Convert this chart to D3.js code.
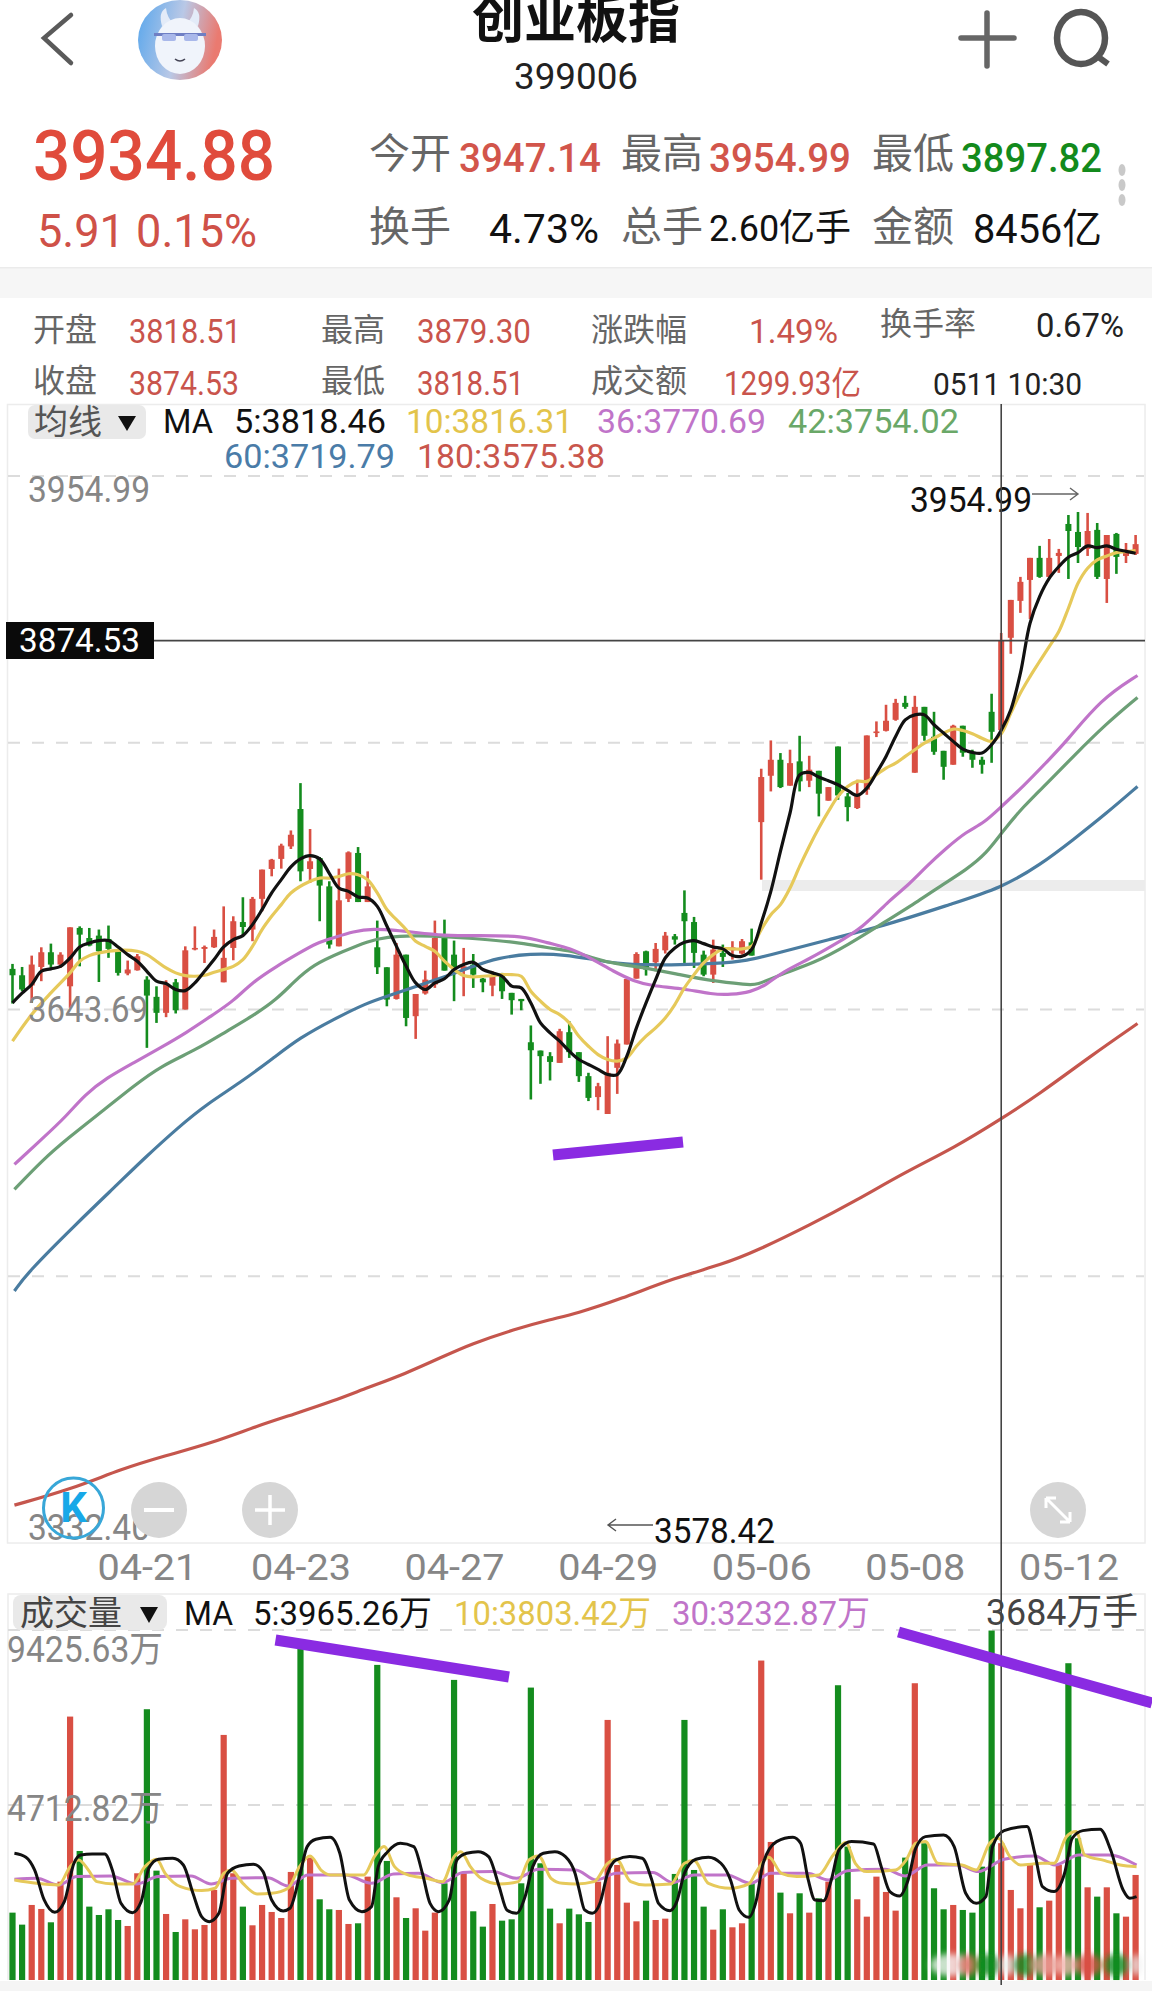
<!DOCTYPE html>
<html><head><meta charset="utf-8">
<script src="https://cdn.jsdelivr.net/npm/d3@7/dist/d3.min.js"></script>
<style>html,body{margin:0;padding:0;background:#fff}svg{display:block}text{font-family:Roboto,"Noto Sans CJK SC",sans-serif}</style>
</head><body><div id="c"></div><script>
// ---------- data ----------
const opens=[3669.2,3665.2,3658.8,3670.4,3679.6,3671.9,3658.3,3694.8,3688.5,3690,3687.9,3680.2,3666.3,3668.3,3662.5,3651.7,3641.7,3660.8,3643.8,3681.3,3681.7,3682.7,3660.8,3682.3,3698.5,3693.8,3713,3731.7,3738,3745.8,3769.2,3731.7,3738.5,3720.8,3683.3,3713,3741.7,3711,3682.7,3670.2,3650.4,3678.1,3639.6,3653.8,3659.4,3688.5,3678.1,3668.8,3671.9,3663.1,3658.7,3664.6,3654.2,3650.4,3623.3,3618.1,3614.6,3610.4,3629.6,3617.1,3602.1,3589,3578.42,3607.3,3621.9,3663.1,3680.2,3673.3,3680.8,3689.6,3704.2,3698.5,3678.1,3665.6,3679.2,3680.8,3678.8,3685.8,3761,3790,3800,3783.8,3799,3786.9,3793.1,3774.4,3808.3,3777.1,3769.8,3781.3,3816.7,3818.1,3825,3835.6,3791.9,3833.1,3814.4,3805.6,3796.9,3821.3,3805,3800,3830,3818.51,3876.3,3899.4,3912.5,3926.3,3914.4,3927.5,3947.5,3942.5,3931.9,3943.8,3913.1,3941.3,3927.5,3928.8];
const highs=[3672.3,3670.4,3677.5,3682.7,3685,3679.6,3695.2,3695.8,3694.8,3693.8,3696.3,3681.7,3674.4,3678.5,3664.6,3658.3,3662.1,3662.9,3683.3,3695.8,3683.8,3693.8,3708.3,3702.1,3714,3714.2,3731.3,3738,3747.5,3755.8,3785.4,3756.7,3739.2,3724,3731.9,3742.7,3745.4,3730.2,3699.4,3670.2,3685.4,3678.1,3653.5,3668.1,3699.4,3700,3686.9,3682.3,3678.5,3663.5,3667.7,3666.7,3654.2,3650.4,3633.8,3618.1,3617.1,3631.7,3636.5,3617.1,3604.2,3597.9,3627.1,3625,3662.9,3679.6,3680.6,3685.4,3692.3,3691,3718.3,3701.7,3680.6,3687.5,3684.4,3686.5,3687.9,3694.4,3794.4,3812.1,3804.2,3806.3,3815,3802.5,3793.1,3782.9,3808.3,3779.2,3787.5,3815.2,3824,3834.4,3838.1,3840,3840,3833.1,3830,3805.6,3821.9,3821.3,3806.3,3801.9,3841.3,3879.3,3900,3914.4,3926.3,3933.8,3938.1,3931.9,3953.1,3954.99,3954.4,3948.1,3940.6,3941.9,3935.6,3940.6];
const lows=[3647.5,3655.2,3647.9,3661.5,3669.8,3669.8,3644.8,3670.8,3683.3,3661,3676.1,3665,3665.2,3668.1,3619.8,3635.4,3639,3641.3,3643.8,3680.8,3672.9,3682.3,3660.8,3674.6,3689.6,3686.5,3705.2,3727.1,3731.9,3744.2,3724,3722.9,3699,3681.9,3683.3,3711,3711,3711,3666,3645.8,3650,3633.3,3625.4,3653.1,3657.3,3668.1,3649,3652.1,3657.3,3654.6,3652.1,3650.4,3640.6,3643.3,3587.5,3597.3,3599.4,3610.4,3613.5,3598.5,3586.5,3580.8,3578.42,3591,3621.9,3663.1,3665,3667.7,3678.8,3684.4,3672.9,3669.8,3664.6,3660.4,3670.4,3675,3678.1,3677.5,3725,3780.2,3782.3,3783.8,3780.2,3782.9,3764.6,3774.4,3775,3761.5,3769.2,3778.1,3814.2,3817.7,3824.4,3831.9,3791.9,3811.9,3803.1,3787.5,3796.9,3801.9,3795,3791.3,3798.1,3818.51,3866.3,3891.9,3888.1,3913.8,3914.4,3916.9,3913.1,3923.1,3927.5,3913.1,3898.1,3916.3,3923.1,3928.1];
const closes=[3665.2,3656.3,3671.9,3679.6,3671.9,3678.1,3695.2,3690.6,3683.8,3680.2,3681.7,3666.7,3668.8,3677.1,3652.5,3641.7,3659.4,3643.3,3680.8,3682.3,3682.9,3689.2,3676.1,3699,3695.4,3713,3731.3,3737.5,3746.3,3753.1,3730.2,3736.5,3721.3,3684.4,3712.1,3742.1,3711,3720.8,3670.2,3650,3678.1,3638.5,3653.5,3662.5,3688.5,3668.1,3668.8,3670.8,3665.6,3660.8,3664.6,3655.2,3649.6,3649,3618.3,3614.6,3611,3630.2,3617.1,3602.1,3588.5,3595.8,3604.2,3622.5,3662.9,3678.5,3668.8,3681.7,3690,3687.5,3699,3679.2,3665.6,3681.3,3676.7,3682.7,3686.5,3677.5,3789.2,3800,3782.9,3797.9,3786.5,3793.8,3778.8,3782.9,3777.7,3770.4,3778.1,3815.2,3817.7,3824.4,3835.6,3833.1,3833.1,3815,3805,3795.6,3821.3,3804.4,3800,3796.9,3817.5,3874.53,3900,3911.3,3926.3,3914.4,3926.3,3929.4,3943.1,3933.1,3943.1,3914.4,3940.6,3926.9,3931.3,3934.88];
const volumes=[1814,1491,2021,1913,1554,2649,7094,3475,1976,1751,1904,1616,1455,2874,7292,2945,1778,1293,1634,1365,1482,2425,6600,2874,1976,1473,2021,1832,1670,2910,8935,3296,2173,1904,1886,1509,1527,2784,8486,3206,2227,1670,1931,1329,1814,2604,8082,2874,1850,1437,2047,1598,1634,2604,7875,3143,1922,1527,1922,1769,1563,2649,7004,3098,2083,1580,2137,1616,1652,2856,7004,2963,1976,1356,1904,1419,1527,2604,8603,3718,2353,1796,2335,1814,2200,2649,7938,3592,2173,1706,2784,2371,1868,3296,7992,3682,2470,1904,2021,1886,1814,3053,9411,3684,2425,1931,3143,1958,2137,3098,8531,3817,2496,2245,2496,1796,1706,2829];
const dayTicks=[14,30,46,62,78,94,110];
const dayLabels=["04-21","04-23","04-27","04-29","05-06","05-08","05-12"];
const priceGrid=[3954.99,3799.34,3643.69,3488.05];
const volGrid=[9425.63,4712.82];
// moving averages as [bar index, value]
const ma5=[[0,3648],[1,3654],[2,3659.4],[3,3667.7],[4,3669.2],[5,3670.8],[6,3676],[7,3682.9],[8,3685.4],[9,3686.9],[10,3686.9],[11,3682.9],[12,3678.1],[13,3674],[14,3667.7],[15,3661.5],[16,3660],[17,3656.3],[18,3655.6],[19,3660.4],[20,3667.7],[21,3675],[22,3682.9],[23,3687.5],[24,3690],[25,3696.9],[26,3706.3],[27,3716.7],[28,3725],[29,3733],[30,3738],[31,3740],[32,3738],[33,3729],[34,3719.8],[35,3717.7],[36,3714.2],[37,3713.5],[38,3708.3],[39,3696],[40,3683.3],[41,3671],[42,3660.4],[43,3656.3],[44,3660.4],[45,3663],[46,3668.8],[47,3672],[48,3673.3],[49,3668.8],[50,3666.7],[51,3664.6],[52,3658.4],[53,3657.3],[54,3647.9],[55,3635.4],[56,3629.2],[57,3624],[58,3617.7],[59,3612.5],[60,3609.4],[61,3606.3],[62,3603.1],[63,3603.1],[64,3614.6],[65,3632.3],[66,3647.9],[67,3662.5],[68,3676],[69,3682.3],[70,3685.8],[71,3686.9],[72,3685],[73,3682.9],[74,3681.7],[75,3677.5],[76,3677.1],[77,3681.3],[78,3697.9],[79,3717.7],[80,3742.7],[81,3766.7],[82,3790.6],[83,3792.1],[84,3789.2],[85,3786.9],[86,3784.4],[87,3780.8],[88,3777.7],[89,3782.3],[90,3791.7],[91,3802.1],[92,3814.6],[93,3825],[94,3828.1],[95,3828.1],[96,3821.9],[97,3816.7],[98,3811.5],[99,3806.7],[100,3804.6],[101,3804.2],[102,3809.4],[103,3818.46],[104,3831.3],[105,3854.2],[106,3885.4],[107,3902.1],[108,3913.5],[109,3920.8],[110,3926.7],[111,3929.6],[112,3933.8],[113,3932.7],[114,3933.8],[115,3931.7],[116,3930.4],[117,3929.2]];
const ma10=[[0,3624],[2,3640.6],[4,3654.2],[6,3666.7],[7,3674],[8,3677.5],[9,3679.2],[11,3680.8],[13,3680.2],[14,3678.1],[15,3674],[16,3669.8],[17,3666.7],[18,3665],[19,3664.6],[20,3665.2],[21,3667.1],[22,3668.8],[23,3670.8],[24,3675],[25,3683.3],[26,3693.8],[27,3702.1],[28,3709.4],[29,3716.7],[31,3724],[32,3726],[33,3726],[34,3727],[35,3728.7],[36,3728.1],[37,3725],[38,3716.7],[39,3706.3],[40,3700],[41,3693.8],[42,3686.5],[43,3683.3],[44,3680.2],[45,3674],[46,3668.8],[47,3665],[48,3664.2],[49,3664.6],[50,3665],[51,3665.6],[52,3665.6],[53,3664.6],[54,3655.2],[55,3649],[56,3643.8],[57,3640.6],[58,3635.4],[59,3627.1],[60,3620.8],[61,3615.6],[62,3612.5],[63,3611.5],[64,3613.5],[65,3620.8],[66,3627.1],[67,3632.3],[68,3638.5],[69,3646.9],[70,3657.3],[71,3665.6],[72,3672.9],[73,3678.1],[74,3681.7],[75,3681.7],[76,3681.7],[77,3683.3],[78,3693.8],[79,3703.1],[80,3709.4],[81,3719.8],[82,3733.3],[83,3745.8],[84,3757.3],[85,3767.7],[86,3777.1],[87,3783.3],[88,3786.5],[89,3786.5],[90,3790.6],[91,3794.8],[92,3797.9],[93,3802.1],[94,3806.3],[95,3810.4],[96,3813.5],[97,3816.7],[98,3819.2],[99,3818.3],[100,3816.3],[101,3813.5],[102,3811.5],[103,3816.31],[104,3829.2],[105,3841.7],[106,3852],[107,3861.5],[108,3870.8],[109,3880.2],[110,3894.8],[111,3910.4],[112,3919.8],[113,3925],[114,3927.5],[115,3929.6],[116,3930.2],[117,3930.8]];
const ma36=[[0.2,3546.9],[3.2,3563.5],[5.6,3577],[7.55,3590.6],[9.8,3601],[12.6,3610.4],[15.4,3619.8],[18.1,3629.2],[20.9,3640.6],[23,3649],[24.9,3660.4],[27.5,3670.8],[29.9,3679.2],[31.7,3685.4],[33.4,3688.5],[35.5,3692.7],[37.6,3694.4],[40,3693.3],[41.8,3692.1],[44.9,3690],[48.4,3690],[53.2,3690],[55.7,3685.4],[58.1,3682.3],[60.5,3675],[62.6,3667.7],[64.7,3661.5],[66.8,3658.3],[69.5,3657.3],[73,3653.1],[74.8,3653.1],[76.9,3654.6],[78.6,3659.4],[80.1,3667],[83.2,3676],[85.5,3684],[88.6,3695],[91.4,3712.5],[93.2,3720.8],[95.2,3733.3],[97.3,3744.8],[99.4,3755.2],[101.2,3760.4],[103,3770.69],[105.3,3783.3],[107.8,3799],[109.8,3811.5],[113.4,3838],[117.2,3852.7]];
const ma42=[[0.2,3531.3],[3.2,3550],[5.6,3562.5],[9.8,3582.3],[12.6,3595.8],[15.4,3608.3],[19.2,3618.8],[22.3,3630.2],[25,3639.6],[27.5,3650],[29.2,3660.4],[31.3,3671.9],[34.5,3680.2],[37,3686.5],[39,3689.2],[41.8,3690],[44.9,3689.6],[48.4,3688.1],[53.2,3685.4],[55.7,3682.3],[58.1,3680.8],[60.5,3676],[62.6,3672.5],[66.1,3669.8],[69.5,3665.6],[73,3661.5],[76.5,3659.4],[77.5,3658.8],[79.9,3665.6],[83.6,3673],[87,3684],[91,3699],[94.6,3712.5],[96.6,3720.8],[99.4,3731.3],[101.5,3741.7],[103,3754.02],[105.3,3770.8],[107.8,3785.4],[110.5,3802.1],[114,3822.9],[117.2,3839]];
const ma60=[[0.2,3467.7],[1.6,3479.4],[6.4,3508.3],[11.3,3536.5],[13.6,3550],[17.4,3570.8],[20.2,3584.4],[23.7,3597.9],[27.2,3613.5],[29.9,3626],[33.4,3637.5],[36.9,3647.9],[39,3652],[42.1,3658.3],[45.2,3664.6],[48,3670.8],[50.5,3676],[53.9,3678.8],[57.7,3678.1],[60.5,3675],[63.3,3672.3],[66.1,3671.7],[69.5,3671.7],[73,3672.5],[76.5,3674],[80,3679.6],[84.7,3687],[91.3,3697],[97.9,3710],[103,3719.79],[107.1,3734.4],[110.5,3750],[114,3766.7],[117.2,3783.3]];
const ma180=[[0.2,3333.75],[6.35,3344.2],[11.3,3356.3],[15.9,3364.6],[20.9,3372.9],[25.5,3383.3],[29.3,3390.6],[33.5,3399],[37,3407.3],[40.8,3415.6],[45,3427.1],[47.7,3434.4],[52.3,3443.8],[56.1,3450],[58.7,3453.5],[63.3,3462.5],[69,3476],[74,3484.4],[77.5,3492.7],[83.2,3509.4],[87.8,3524],[93.2,3542.7],[98.1,3557.3],[103,3575.38],[106.9,3590.6],[112.3,3614.6],[117.2,3635]];
const volMa5=[[0.2,3412],[1.4,3305],[2.3,2963],[3.3,2155],[4.4,1823],[5.4,2110],[6.4,3143],[7.1,3368],[8.3,3394],[9.6,3394],[10.4,2963],[11.3,2065],[12.5,1814],[13.4,2110],[14.2,3008],[15.2,3251],[16.7,3278],[17.8,3098],[18.8,2335],[19.7,1706],[20.5,1572],[21.5,1796],[22.4,2874],[23.6,3071],[25.1,3116],[26.1,2919],[27,2155],[28.2,1859],[28.9,1931],[29.9,2784],[30.7,3592],[31.6,3790],[33.1,3843],[34.1,3412],[35.1,2155],[36.4,1841],[37.4,1976],[38.1,3053],[39.1,3457],[40.4,3682],[41.8,3592],[42.7,2874],[43.5,2065],[44.4,1841],[45.5,2155],[46.3,3233],[47.3,3412],[48.5,3457],[49.6,3323],[50.7,2514],[51.5,1886],[52.5,1796],[53.4,2245],[54.2,3053],[55.3,3412],[56.5,3457],[57.6,3323],[58.6,2874],[59,2470],[59.6,1886],[60.4,1796],[61.2,2065],[62,2874],[62.9,3233],[64.3,3323],[65.6,3278],[66.6,2694],[67.3,2065],[68.5,1868],[69.2,2110],[70,2874],[71.2,3251],[72.5,3305],[73.8,3143],[74.8,2694],[75.7,1886],[76.7,1688],[77.5,2155],[78.2,3143],[79.6,3727],[81.3,3843],[82.1,3682],[82.9,2694],[83.6,2155],[84.5,2137],[85.3,2694],[86.1,3502],[87.4,3727],[89.7,3664],[90.5,3053],[91.4,2380],[92.4,2263],[93.3,2694],[94.1,3547],[95.1,3861],[97,3906],[98.1,3592],[99.3,2335],[100.4,2065],[101.4,2245],[102.1,3592],[103.3,4023],[105.7,4131],[106.5,3412],[107.3,2514],[108.5,2380],[109.6,2874],[110.4,3817],[111.5,4023],[113.3,4059],[114.4,3502],[115.7,2425],[116.4,2200],[117.1,2245]];
const volMa10=[[0.2,2694],[2.5,2604],[4.8,2559],[6,3053],[6.9,3233],[7.9,2963],[8.8,2649],[10.6,2586],[12.5,2586],[13.8,3053],[15,3251],[15.9,2874],[17.5,2514],[19.7,2407],[21.1,2470],[22,2874],[22.8,2963],[24,2604],[25.5,2317],[27,2335],[28.7,2470],[29.9,3053],[31,3341],[32.2,2945],[33.1,2829],[34.9,2829],[36.6,2829],[37.7,3323],[38.7,3592],[39.8,3053],[41.2,2829],[43.1,2739],[44.8,2649],[46,3323],[46.7,3457],[47.7,3053],[48.8,2739],[50.7,2586],[52.7,2649],[53.8,3233],[54.8,3341],[56.1,2739],[57.3,2604],[58.7,2586],[60.6,2649],[62,3143],[62.9,3251],[64.4,2649],[65.9,2559],[68.6,2586],[70,3143],[71,3215],[72.5,2604],[74.8,2470],[76.7,2586],[77.5,2919],[78.8,3305],[80.1,2874],[81.7,2784],[84,2829],[85.5,3368],[86.8,3700],[87.8,3143],[89,2919],[92,2963],[93.1,3233],[94.1,3682],[95.1,3727],[96.4,3143],[98.9,3098],[100.4,2963],[101.8,3682],[102.7,3816],[103.9,3323],[105,3098],[107.3,3143],[108.5,3143],[109.8,3861],[110.8,3996],[111.7,3368],[113.8,3215],[115.4,3098],[117.1,3053]];
const volMa30=[[0.2,2712],[2.5,2739],[4.8,2559],[6.7,2784],[10.2,2802],[12.9,2586],[15.2,2784],[18.6,2802],[20.7,2586],[22.8,2739],[26.6,2757],[28.7,2532],[30.8,2829],[34.7,2829],[37.4,2604],[39.7,2856],[42.3,2874],[44.8,2622],[46.9,2892],[50,2919],[52.5,2739],[54.8,2981],[58.7,2963],[60.8,2694],[62.9,2874],[66.7,2892],[68.8,2622],[71,2829],[74.4,2829],[76.9,2604],[79,2874],[82.8,2874],[85,2694],[87,2945],[90.9,2981],[93,2802],[95.3,3098],[98.5,3098],[100.6,2919],[103.3,3251],[106.5,3341],[108.6,3098],[111.1,3368],[114.2,3368],[117.1,3098]];

// ---------- layout ----------
const W=1152,H=1991,RED="#d94f43",GREEN="#148c1e",GRAY="#868686";
const svg=d3.select("#c").append("svg").attr("width",W).attr("height",H).attr("viewBox",`0 0 ${W} ${H}`);
const x=d3.scaleLinear().domain([0,117]).range([12.5,1135.6]);
const y=d3.scaleLinear().domain([3578.42,3954.99]).range([1114,512]);
const yLabel=d3.scaleLinear().domain([3954.99,3332.40]).range([476,1543]);
const yv=d3.scaleLinear().domain([0,9425.63]).range([1980,1630]);
function t(s,px,py,size,fill,o={}){
  const n=svg.append("text").attr("x",px).attr("y",py).attr("font-size",size).attr("fill",fill).text(s);
  if(o.w){n.attr("textLength",o.w).attr("lengthAdjust","spacingAndGlyphs");}
  if(o.anchor)n.attr("text-anchor",o.anchor);
  if(o.weight)n.attr("font-weight",o.weight);
  return n;
}
// header
svg.append("path").attr("d","M71 15L44 38L71 63").attr("fill","none").attr("stroke","#5a5a5a").attr("stroke-width",4.5).attr("stroke-linecap","round");
const defs=svg.append("defs");
const g=defs.append("linearGradient").attr("id","av").attr("x1",0).attr("x2",1).attr("y1",0).attr("y2",0.2);
g.append("stop").attr("offset","0").attr("stop-color","#58a6ec");
g.append("stop").attr("offset","0.55").attr("stop-color","#b9c8e6");
g.append("stop").attr("offset","1").attr("stop-color","#ea7a70");
const blur=defs.append("filter").attr("id","smudge").attr("x","-30%").attr("y","-60%").attr("width","160%").attr("height","220%");
blur.append("feGaussianBlur").attr("stdDeviation",3);
svg.append("ellipse").attr("cx",180).attr("cy",40).attr("rx",42).attr("ry",40).attr("fill","url(#av)");
svg.append("path").attr("d","M162 26Q158 12 166 8Q167 18 174 24ZM198 26Q202 12 194 8Q193 18 186 24Z").attr("fill","#e3ebf8");
svg.append("ellipse").attr("cx",180).attr("cy",46).attr("rx",25).attr("ry",28).attr("fill","#f0f4fb");
svg.append("rect").attr("x",154).attr("y",33).attr("width",52).attr("height",3).attr("fill","#6f7fc4");
svg.append("rect").attr("x",162).attr("y",34).attr("width",14).attr("height",7).attr("rx",2).attr("fill","#a9b8ea");
svg.append("rect").attr("x",184).attr("y",34).attr("width",14).attr("height",7).attr("rx",2).attr("fill","#a9b8ea");
svg.append("path").attr("d","M175 59Q180 63 185 59").attr("fill","none").attr("stroke","#445").attr("stroke-width",1.6);
svg.append("path").attr("d","M961 38H1014M987 13V66").attr("stroke","#666").attr("stroke-width",5.5).attr("stroke-linecap","round");
svg.append("ellipse").attr("cx",1081).attr("cy",38).attr("rx",24).attr("ry",26).attr("fill","none").attr("stroke","#555").attr("stroke-width",6.5);
svg.append("path").attr("d","M1097 56L1108 64").attr("stroke","#555").attr("stroke-width",6);
t("创业板指",576,38,52,"#111",{anchor:"middle",weight:700});
t("399006",576,89,37,"#222",{anchor:"middle",w:124});
t("3934.88",33,180,71,"#e04b3c",{w:242,weight:500});
t("5.91 0.15%",37,247,46,"#cf5148",{w:220});
const gr="#666";
t("今开",369,168,41,gr);t("3947.14",459,172,41,"#d2554b",{w:142,weight:500});
t("最高",621,168,41,gr);t("3954.99",709,172,41,"#d2554b",{w:142,weight:500});
t("最低",872,168,41,gr);t("3897.82",961,172,41,"#138a1c",{w:141,weight:500});
t("换手",369,241,41,gr);t("4.73%",489,243,41,"#111",{w:110});
t("总手",621,241,41,gr);t("2.60亿手",709,241,37,"#111",{w:142});
t("金额",872,241,41,gr);t("8456亿",973,243,41,"#111",{w:129});
[170,185,200].forEach(c=>svg.append("ellipse").attr("cx",1122).attr("cy",c).attr("rx",3.5).attr("ry",6).attr("fill","#c9c9c9"));
svg.append("rect").attr("x",0).attr("y",267).attr("width",W).attr("height",31).attr("fill","#f6f6f6");
svg.append("rect").attr("x",0).attr("y",267).attr("width",W).attr("height",1.5).attr("fill","#ebebeb");
const rd="#c9544c";
t("开盘",33,341,32,gr);t("3818.51",129,343,33,rd,{w:112});
t("最高",321,341,32,gr);t("3879.30",417,343,33,rd,{w:114});
t("涨跌幅",591,341,32,gr);t("1.49%",749,343,33,rd,{w:89});
t("换手率",880,335,32,gr);t("0.67%",1036,337,33,"#222",{w:88});
t("收盘",33,392,32,gr);t("3874.53",129,395,33,rd,{w:110});
t("最低",321,392,32,gr);t("3818.51",417,395,33,rd,{w:107});
t("成交额",591,392,32,gr);t("1299.93亿",724,395,33,rd,{w:137});
t("0511 10:30",933,395,31,"#222",{w:149});

// price pane
svg.append("rect").attr("x",7.5).attr("y",404.5).attr("width",1137.5).attr("height",1138.5).attr("fill","none").attr("stroke","#ececec").attr("stroke-width",1.5);
svg.append("g").selectAll("line").data(priceGrid).join("line")
  .attr("x1",8).attr("x2",1144).attr("y1",d=>yLabel(d)).attr("y2",d=>yLabel(d))
  .attr("stroke","#dcdcdc").attr("stroke-width",2).attr("stroke-dasharray","12 12");
svg.append("rect").attr("x",762).attr("y",880).attr("width",383).attr("height",11).attr("fill","#ececec");

const up=i=>closes[i]>=opens[i];
const idx=d3.range(opens.length);
const cg=svg.append("g");
cg.selectAll("line").data(idx).join("line")
  .attr("x1",x).attr("x2",x).attr("y1",i=>y(highs[i])).attr("y2",i=>y(lows[i]))
  .attr("stroke",i=>up(i)?RED:GREEN).attr("stroke-width",2.6);
cg.selectAll("rect").data(idx).join("rect")
  .attr("x",i=>x(i)-3).attr("width",6)
  .attr("y",i=>y(Math.max(opens[i],closes[i])))
  .attr("height",i=>Math.max(1.5,y(Math.min(opens[i],closes[i]))-y(Math.max(opens[i],closes[i]))))
  .attr("fill",i=>up(i)?RED:GREEN);
const line=(sc,curve)=>d3.line().x(d=>x(d[0])).y(d=>sc(d[1])).curve(curve);
const smooth=d3.curveBasis, tight=d3.curveMonotoneX;
const colMA={k:"#111",yl:"#e6c95a",pu:"#c074c9",gn:"#6c9f76",bl:"#4a7ca0",re:"#c5564d"};
[[ma180,colMA.re,smooth],[ma60,colMA.bl,smooth],[ma42,colMA.gn,smooth],[ma36,colMA.pu,smooth],[ma10,colMA.yl,d3.curveCatmullRom],[ma5,colMA.k,d3.curveCatmullRom]].forEach(([d,c,cv])=>{
  svg.append("path").attr("d",line(y,cv)(d)).attr("fill","none").attr("stroke",c).attr("stroke-width",3.2).attr("stroke-linejoin","round");
});
// labels over the price pane
t("3954.99",28,502,37,GRAY,{w:122});
t("3643.69",28,1022,37,GRAY,{w:120});
t("3332.40",28,1540,36,GRAY,{w:122});
// hi / lo notes
t("3954.99",910,512,35,"#111",{w:122});
svg.append("path").attr("d","M1032 494H1078M1070 488L1078 494L1070 500").attr("fill","none").attr("stroke","#666").attr("stroke-width",1.4);
t("3578.42",654,1543,35,"#111",{w:121});
svg.append("path").attr("d","M653 1525H608M616 1519L608 1525L616 1531").attr("fill","none").attr("stroke","#555").attr("stroke-width",1.4);
// legend
svg.append("rect").attr("x",28).attr("y",405).attr("width",118).attr("height",34).attr("rx",7).attr("fill","#e9e9e9");
t("均线",34,434,34,"#555");
svg.append("path").attr("d","M118 416H136L127 431Z").attr("fill","#111");
t("MA",163,433,34,"#111",{w:50});
t("5:3818.46",234,433,34,"#111",{w:152});
t("10:3816.31",406,433,34,"#e3c44b",{w:167});
t("36:3770.69",597,433,34,"#c074c9",{w:169});
t("42:3754.02",788,433,34,"#6aa868",{w:171});
t("60:3719.79",224,468,34,"#4a7ca8",{w:171});
t("180:3575.38",417,468,34,"#c9564c",{w:188});
// buttons
svg.append("circle").attr("cx",159).attr("cy",1510).attr("r",28).attr("fill","#d6d6d6");
svg.append("path").attr("d","M144 1510H174").attr("stroke","#fff").attr("stroke-width",4);
svg.append("circle").attr("cx",270).attr("cy",1510).attr("r",28).attr("fill","#d6d6d6");
svg.append("path").attr("d","M255 1510H285M270 1495V1525").attr("stroke","#fff").attr("stroke-width",3.5);
svg.append("circle").attr("cx",1058).attr("cy",1510).attr("r",28).attr("fill","#d6d6d6");
svg.append("path").attr("d","M1046 1498L1070 1522M1046 1498H1056M1046 1498V1508M1070 1522H1060M1070 1522V1512").attr("fill","none").attr("stroke","#fff").attr("stroke-width",3);
svg.append("circle").attr("cx",73.5).attr("cy",1508).attr("r",30).attr("fill","none").attr("stroke","#38a7d8").attr("stroke-width",3);
t("K",73.5,1522,42,"#17a8e8",{anchor:"middle",weight:700});

// date axis
const ax=svg.append("g").attr("transform","translate(0,1543)").call(d3.axisBottom(x).tickValues(dayTicks).tickFormat((d,i)=>dayLabels[i]).tickSize(0).tickPadding(0));
ax.select(".domain").remove();
ax.selectAll("text").attr("dy",0).attr("y",37).attr("font-size",37).attr("fill",GRAY).attr("textLength",100).attr("lengthAdjust","spacingAndGlyphs").attr("font-family",'Roboto,"Noto Sans CJK SC",sans-serif');

// volume pane
svg.append("path").attr("d","M8 1980V1594H1145V1980").attr("fill","none").attr("stroke","#ececec").attr("stroke-width",1.5);
svg.append("g").selectAll("line").data(volGrid).join("line")
  .attr("x1",8).attr("x2",1144).attr("y1",d=>yv(d)).attr("y2",d=>yv(d))
  .attr("stroke","#dcdcdc").attr("stroke-width",2).attr("stroke-dasharray","12 12");
svg.append("g").selectAll("rect").data(idx).join("rect")
  .attr("x",i=>x(i)-3.1).attr("width",6.2).attr("y",i=>yv(volumes[i])).attr("height",i=>yv(0)-yv(volumes[i]))
  .attr("fill",i=>up(i)?RED:GREEN);
[[volMa30,colMA.pu],[volMa10,colMA.yl],[volMa5,colMA.k]].forEach(([d,c])=>{
  svg.append("path").attr("d",line(yv,tight)(d)).attr("fill","none").attr("stroke",c).attr("stroke-width",3).attr("stroke-linejoin","round");
});
// blurred watermark smudge, bottom right
const wm=svg.append("g").attr("filter","url(#smudge)");
[[955,"#f6f6f6",20],[972,"#dd6a5e",9],[992,GREEN,14],[1012,"#f4f4f4",7],[1030,GREEN,13],[1052,"#e8a098",15],[1072,"#f2b8b0",10],[1094,RED,13],[1122,GREEN,13],[1142,"#eeeeee",5]].forEach(([cx,c,rx])=>{
  wm.append("ellipse").attr("cx",cx*0.995).attr("cy",1965).attr("rx",rx).attr("ry",11).attr("fill",c).attr("opacity",.8);
});
svg.append("rect").attr("x",0).attr("y",1981).attr("width",W).attr("height",10).attr("fill","#f5f5f5");
t("9425.63万",7,1662,36,GRAY,{w:156});
t("4712.82万",7,1821,36,GRAY,{w:156});
svg.append("rect").attr("x",13).attr("y",1595).attr("width",154).attr("height",35).attr("rx",8).attr("fill","#e9e9e9");
t("成交量",20,1625,34,"#444");
svg.append("path").attr("d","M140 1607H158L149 1623Z").attr("fill","#111");
t("MA",184,1625,34,"#111",{w:49});
t("5:3965.26万",253,1625,34,"#111",{w:179});
t("10:3803.42万",454,1625,34,"#e3c44b",{w:197});
t("30:3232.87万",672,1625,34,"#c074c9",{w:198});
t("3684万手",986,1625,37,"#444",{w:152});

// crosshair
svg.append("path").attr("d",`M${x(103)} 404V1985`).attr("stroke","#444").attr("stroke-width",1.6);
svg.append("path").attr("d",`M7 ${y(3874.53)}H1145`).attr("stroke","#444").attr("stroke-width",1.6);
svg.append("rect").attr("x",6).attr("y",622).attr("width",148).attr("height",37).attr("fill","#0a0a0a");
t("3874.53",19,652,34,"#fff",{w:121});

// hand-drawn purple strokes
[[553,1155,683,1142],[275.5,1640,509,1677],[898.5,1632,1152,1703]].forEach(s=>{
  svg.append("line").attr("x1",s[0]).attr("y1",s[1]).attr("x2",s[2]).attr("y2",s[3]).attr("stroke","#8a2be2").attr("stroke-width",11);
});
</script></body></html>
